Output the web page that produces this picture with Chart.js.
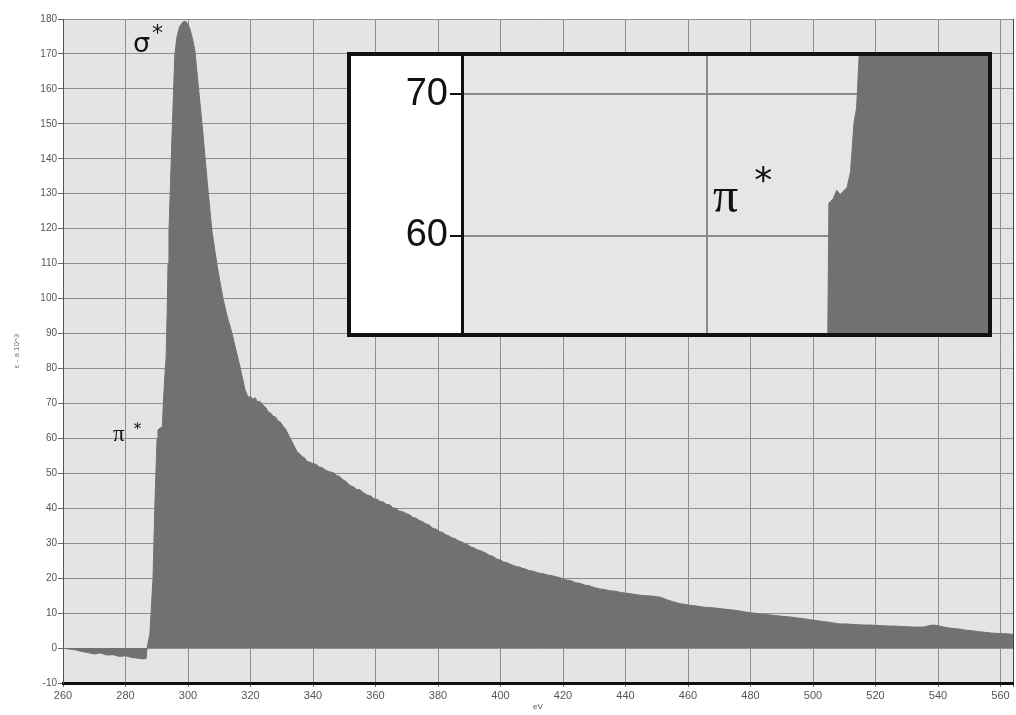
<!DOCTYPE html>
<html>
<head>
<meta charset="utf-8">
<script src="https://cdn.jsdelivr.net/npm/chart.js@4.4.0/dist/chart.umd.min.js"></script>
<style>
    html, body { margin: 0; padding: 0; background: #fff; }
    #obal { position: relative; width: 1016px; height: 715px; }
    #spektrum { position: absolute; left: 0; top: 0; }
    #vyrez {
        position: absolute; left: 347px; top: 52px; width: 645px; height: 285px;
        box-sizing: border-box; border: 4px solid #111; background: #fff;
    }
    #detail { display: block; }
</style>
</head>
<body>
<div id="obal">
    <canvas id="spektrum" width="1016" height="715"></canvas>
    <div id="vyrez"><canvas id="detail" width="637" height="277"></canvas></div>
</div>
<script>
// Celé spektrum (eV -> intenzita)
const energie = [
    260, 262, 264, 266, 268, 270, 272, 274, 276, 278, 280, 282, 284, 285.5, 286.6,
    286.9, 287.8, 288.8, 289.4, 290.1, 290.4, 291.2, 291.8, 292.1, 292.6, 293, 293.3, 293.6, 293.9,
    294.4, 294.9, 295.4, 295.8, 296.5, 297.3, 298.2, 299, 299.8, 300.6, 301.4, 302.2, 303.5, 304.8,
    306.2, 307.7, 309.4, 311.2, 312.5, 314.1, 315, 316.6, 317.5, 318.2, 319.2, 320, 320.8, 321.5,
    322.3, 323, 324, 325, 325.6, 326.5, 327.2, 328, 328.8, 329.6, 330.4, 331.2, 331.7, 332.5, 333.3,
    334.2, 334.9, 335.7, 336.5, 337.3, 338.1, 339, 340, 341, 342, 343, 344, 345.4, 346.5, 347.5,
    348.5, 349.5, 350.5, 351.8, 353, 354, 355, 356, 357.3, 358.5, 359.5, 360.5, 361.5, 362.5, 363.5,
    364.6, 365.5, 366.5, 367.5, 368.5, 370, 371, 372, 373, 374, 375, 376, 377.2, 378.4, 379.5,
    380.5, 381.5, 382.5, 383.5, 384.5, 385.5, 386.5, 387.5, 388.5, 389.5, 390.5, 391.5, 392.5, 393.5,
    394.5, 395.5, 396.5, 397.5, 398.9, 400, 401, 402, 403, 404, 405, 406, 407, 408, 409, 410.5,
    412, 413.5, 415, 416.5, 418.1, 419.5, 421, 422.5, 424, 425.5, 427, 428.5, 430, 431.8, 433.5,
    435, 436.5, 438, 440, 442, 444, 446, 448, 450, 451.5, 453, 455, 457.4, 459, 461, 463, 465, 467,
    469, 471, 473, 475, 476.6, 478.5, 480, 482, 484, 486, 488, 490, 492.6, 495, 497, 499, 501, 503,
    505, 507, 508.6, 510.5, 512, 514, 516, 518, 520, 522, 524, 526, 528, 530, 532, 534, 535.5, 537,
    538.4, 540, 541.5, 543, 545, 547, 549, 551.2, 553, 555, 557, 559, 561, 563, 564
];
const intenzita = [
    0, -0.3, -0.5, -1.0, -1.3, -1.7, -1.4, -2.0, -1.9, -2.4, -2.2, -2.7, -2.9, -3.1, -3.0,
    0, 4, 20, 41, 60, 62.5, 63, 63.5, 70, 78, 83, 95, 110, 119,
    133, 147, 160, 170, 175, 177.8, 179, 179.4, 178.8, 177.2, 174.5, 171, 159, 147,
    133, 119, 109, 100, 95, 90, 86.5, 80.6, 77, 74, 71.8, 71.9, 71.2, 71.6,
    70.4, 70.6, 69.5, 68.7, 67.6, 67.2, 66.3, 66.1, 65, 64.6, 63.5, 62.7, 61.8, 60.4, 59,
    57.4, 56.2, 55.6, 54.8, 54.4, 53.4, 53.2, 52.7, 52.6, 51.8, 51.6, 50.9, 50.4, 50.2, 49.4,
    49.1, 48.2, 47.7, 46.5, 46.1, 45.3, 45.4, 44.5, 43.8, 43.5, 42.7, 42.6, 41.9, 41.8, 41.1,
    41, 40.1, 40, 39.2, 39.1, 38.4, 38.1, 37.3, 37.2, 36.5, 36.2, 35.6, 35.2, 34.2, 34,
    33.3, 33.1, 32.4, 32.1, 31.5, 31.3, 30.7, 30.4, 29.9, 29.6, 28.9, 28.7, 28.1, 27.9,
    27.5, 27.1, 26.5, 26.3, 25.4, 25.2, 24.6, 24.5, 24, 23.7, 23.3, 23.2, 22.8, 22.6, 22.2, 22,
    21.5, 21.3, 20.9, 20.7, 20.3, 20, 19.5, 19.3, 18.7, 18.5, 18, 17.8, 17.3, 16.9, 16.7,
    16.4, 16.3, 16, 15.7, 15.5, 15.2, 15, 14.9, 14.7, 14.5, 13.9, 13.3, 12.7, 12.5, 12.2, 12, 11.7, 11.6,
    11.4, 11.2, 11, 10.8, 10.6, 10.3, 10.1, 9.9, 9.7, 9.5, 9.3, 9.1, 8.9, 8.6, 8.4, 8.1, 7.9, 7.6,
    7.4, 7.1, 6.9, 6.9, 6.8, 6.7, 6.6, 6.6, 6.5, 6.4, 6.3, 6.3, 6.2, 6.1, 6, 6, 6, 6.4,
    6.6, 6.4, 6.1, 5.8, 5.6, 5.4, 5.1, 4.9, 4.7, 4.5, 4.3, 4.2, 4.1, 4, 3.9
];

// Detail náběhu hrany (π*)
const detailEnergie = [265.83, 270, 275, 280, 284, 286.8, 286.95, 287.05, 287.3, 287.5, 287.7, 287.85, 288.1, 288.3, 288.5, 288.65, 288.85, 290, 293, 296.25];
const detailIntenzita = [-1.0, -1.6, -2.0, -2.2, -2.8, -2.9, 48, 62.3, 62.6, 63.2, 62.9, 63.1, 63.4, 64.5, 68, 69, 74, 88, 125, 172];

// Popisky os
const yTicky = [-10, 0, 10, 20, 30, 40, 50, 60, 70, 80, 90, 100, 110, 120, 130, 140, 150, 160, 170, 180];
const xTicky = [260, 280, 300, 320, 340, 360, 380, 400, 420, 440, 460, 480, 500, 520, 540, 560];
const xMax = 564;
const detailYTicky = [60, 70];
const detailXTicky = [280];

const barvaVyplne = '#717171';
const barvaMrizky = '#8e8e8e';

const pozadiGrafu = {
    id: 'pozadiGrafu',
    beforeDraw(chart, args, opts) {
        const { ctx, chartArea: a } = chart;
        ctx.save();
        ctx.fillStyle = opts.barva;
        ctx.fillRect(a.left, a.top, a.right - a.left, a.bottom - a.top);
        ctx.restore();
    }
};

// Označení rezonancí (σ*, π*) - pozice v jednotkách os
const popisky = {
    id: 'popisky',
    afterDatasetsDraw(chart, args, opts) {
        const { ctx, scales: { x, y } } = chart;
        ctx.save();
        ctx.fillStyle = '#111';
        ctx.textBaseline = 'alphabetic';
        opts.polozky.forEach(p => {
            const px = x.getPixelForValue(p.x);
            const py = y.getPixelForValue(p.y);
            ctx.font = p.font;
            ctx.fillText(p.text, px, py);
            const w = ctx.measureText(p.text).width;
            ctx.font = p.fontHvezda;
            ctx.fillText('*', px + w + p.mezera, py - p.zdvih);
        });
        ctx.restore();
    }
};

function body(xs, ys) {
    return xs.map((e, i) => ({ x: e, y: ys[i] }));
}

function nakresliSpektrum() {
    new Chart(document.getElementById('spektrum'), {
        type: 'line',
        data: {
            datasets: [{
                data: body(energie, intenzita),
                borderColor: barvaVyplne,
                backgroundColor: barvaVyplne,
                borderWidth: 1,
                pointRadius: 0,
                tension: 0,
                fill: 'origin'
            }]
        },
        options: {
            responsive: false,
            animation: false,
            devicePixelRatio: 1,
            layout: { padding: { top: 19, right: 3, left: 0, bottom: 0 } },
            plugins: {
                legend: { display: false },
                tooltip: { enabled: false },
                pozadiGrafu: { barva: '#e4e4e4' },
                popisky: {
                    polozky: [
                        { text: 'σ', x: 282.4, y: 170.6, font: '27px "DejaVu Sans"', fontHvezda: '22px "DejaVu Sans"', mezera: 2, zdvih: 12 },
                        { text: 'π', x: 276.0, y: 59.3, font: '23px "Liberation Serif"', fontHvezda: '16px "DejaVu Sans"', mezera: 9, zdvih: 7 }
                    ]
                }
            },
            scales: {
                x: {
                    type: 'linear',
                    min: xTicky[0],
                    max: xMax,
                    afterFit: s => { s.height = 32; },
                    // okraj grafu (564) dostane jen čáru, bez popisku
                    afterBuildTicks: s => { s.ticks = xTicky.concat([xMax]).map(v => ({ value: v })); },
                    ticks: {
                        autoSkip: false,
                        maxRotation: 0,
                        callback: v => (xTicky.includes(v) ? v : ''),
                        font: { family: 'Liberation Sans', size: 11 },
                        color: '#555',
                        padding: 2
                    },
                    grid: {
                        color: ctx => (ctx.tick && ctx.tick.value === xMax ? '#444' : barvaMrizky),
                        lineWidth: 1, tickLength: 4, tickColor: '#666'
                    },
                    border: { color: '#111', width: 3 },
                    title: { display: true, text: 'eV', font: { family: 'Liberation Sans', size: 8 }, color: '#555', padding: { top: 0, bottom: 3 } }
                },
                y: {
                    min: yTicky[0],
                    max: yTicky[yTicky.length - 1],
                    afterFit: s => { s.width = 63; },
                    afterBuildTicks: s => { s.ticks = yTicky.map(v => ({ value: v })); },
                    ticks: {
                        font: { family: 'Liberation Sans', size: 10 },
                        color: '#555',
                        padding: 1
                    },
                    grid: { color: barvaMrizky, lineWidth: 1, tickLength: 5, tickColor: '#666' },
                    border: { color: '#555', width: 1 },
                    title: { display: true, text: 'ε - a 10^3', font: { family: 'Liberation Sans', size: 8 }, color: '#777', padding: { top: 12, bottom: 0 } }
                }
            }
        },
        plugins: [pozadiGrafu, popisky]
    });
}

function nakresliDetail() {
    new Chart(document.getElementById('detail'), {
        type: 'line',
        data: {
            datasets: [{
                data: body(detailEnergie, detailIntenzita),
                borderColor: barvaVyplne,
                backgroundColor: barvaVyplne,
                borderWidth: 1,
                pointRadius: 0,
                tension: 0,
                fill: 'origin'
            }]
        },
        options: {
            responsive: false,
            animation: false,
            devicePixelRatio: 1,
            layout: { padding: 0 },
            plugins: {
                legend: { display: false },
                tooltip: { enabled: false },
                pozadiGrafu: { barva: '#e6e6e6' },
                popisky: {
                    polozky: [
                        { text: 'π', x: 280.35, y: 61.66, font: '50px "Liberation Serif"', fontHvezda: '36px "DejaVu Sans"', mezera: 16, zdvih: 20 }
                    ]
                }
            },
            scales: {
                x: {
                    type: 'linear',
                    min: 265.83,
                    max: 296.25,
                    afterFit: s => { s.height = 0; s.paddingLeft = 0; s.paddingRight = 0; },
                    afterBuildTicks: s => { s.ticks = detailXTicky.map(v => ({ value: v })); },
                    ticks: { display: false },
                    grid: { color: '#8a8a8a', lineWidth: 2, drawTicks: false },
                    border: { display: false }
                },
                y: {
                    min: 53.11,
                    max: 72.69,
                    // popisky 60/70 leží uvnitř, žádné odsazení nahoře ani dole
                    afterFit: s => { s.width = 111; s.paddingTop = 0; s.paddingBottom = 0; },
                    afterBuildTicks: s => { s.ticks = detailYTicky.map(v => ({ value: v })); },
                    ticks: { font: { family: 'Liberation Sans', size: 38 }, color: '#111', padding: 2 },
                    grid: { color: '#8a8a8a', lineWidth: 2, tickLength: 12, tickColor: '#111', tickWidth: 2 },
                    border: { color: '#111', width: 3 }
                }
            }
        },
        plugins: [pozadiGrafu, popisky]
    });
}

nakresliSpektrum();
nakresliDetail();
</script>
</body>
</html>
